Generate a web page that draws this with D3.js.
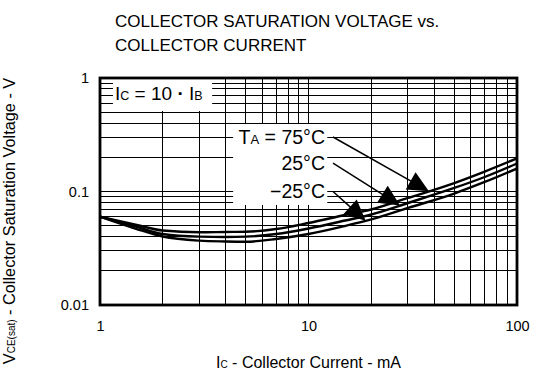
<!DOCTYPE html>
<html>
<head>
<meta charset="utf-8">
<script src="https://cdn.jsdelivr.net/npm/d3@7/dist/d3.min.js"></script>
<style>
  html, body { margin: 0; padding: 0; background: #fff; }
  text { font-family: "Liberation Sans", Arial, sans-serif; fill: #000; }
</style>
</head>
<body>
<svg id="chart" width="535" height="379"></svg>
<script>
// ---- data ----
const currents = [1, 1.5, 2, 3, 4, 5, 7, 10, 15, 20, 30, 50, 70, 100];           // Ic, mA
const vce75  = [0.060, 0.0507, 0.0453, 0.0437, 0.0440, 0.0442, 0.0467, 0.0528, 0.0621, 0.0694, 0.0877, 0.1188, 0.150, 0.196];
const vce25  = [0.060, 0.0487, 0.0422, 0.0400, 0.0397, 0.0400, 0.0422, 0.0472, 0.0555, 0.0627, 0.0792, 0.1074, 0.1342, 0.1765];
const vceM25 = [0.060, 0.0467, 0.0401, 0.0369, 0.0363, 0.0361, 0.0382, 0.0422, 0.0497, 0.0567, 0.0716, 0.0960, 0.1213, 0.1595];
const seriesNames = ["75°C", "25°C", "−25°C"];
const xTickValues = [1, 10, 100];
const xTickLabels = ["1", "10", "100"];
const yTickValues = [0.01, 0.1, 1];
const yTickLabels = ["0.01", "0.1", "1"];
// annotation anchors in data units (mA, V)
const labelX = 12.0;
const labelY = [0.302, 0.178, 0.100];
const arrowTipX = [37.8, 27.5, 18.8];
const condBox = {x0: 1.154, x1: 3.45, y0: 0.512, y1: 1.0};
const tempBox = {x0: 4.35, x1: 12.3, y0: 0.0761, y1: 0.393};
const condPos = {x: 1.18, y: 0.723};

const svg = d3.select("#chart");
const L = 100, R = 517, T = 78, B = 305;
const x = d3.scaleLog().domain([1, 100]).range([L, R]);
const y = d3.scaleLog().domain([0.01, 1]).range([B, T]);

// ---- grid ----
const g = svg.append("g").attr("shape-rendering", "crispEdges");
g.selectAll("line.vx").data(x.ticks().filter(v => v > 1 && v < 100)).enter()
  .append("line").attr("x1", d => x(d)).attr("x2", d => x(d)).attr("y1", T).attr("y2", B)
  .attr("stroke", "#000").attr("stroke-width", 1);
g.selectAll("line.hy").data(y.ticks().filter(v => v > 0.01 && v < 1)).enter()
  .append("line").attr("y1", d => y(d)).attr("y2", d => y(d)).attr("x1", L).attr("x2", R)
  .attr("stroke", "#000").attr("stroke-width", 1);

// white label boxes
[condBox, tempBox].forEach(b => {
  svg.append("rect").attr("x", x(b.x0)).attr("y", y(b.y1))
    .attr("width", x(b.x1) - x(b.x0)).attr("height", y(b.y0) - y(b.y1))
    .attr("fill", "#fff");
});

// frame
svg.append("rect").attr("x", L).attr("y", T).attr("width", R - L).attr("height", B - T)
  .attr("fill", "none").attr("stroke", "#000").attr("stroke-width", 2.8);

// ---- curves ----
const series = [vce75, vce25, vceM25];
const line = d3.line().curve(d3.curveMonotoneX).x(d => x(d[0])).y(d => y(d[1]));
series.forEach(s => {
  svg.append("path").datum(currents.map((c, i) => [c, s[i]]))
    .attr("d", line).attr("fill", "none").attr("stroke", "#000").attr("stroke-width", 2.4);
});

// ---- axes ----
const xAxis = d3.axisBottom(x).tickValues(xTickValues).tickFormat((d, i) => xTickLabels[i]).tickSize(0).tickPadding(16);
const xa = svg.append("g").attr("transform", `translate(0,${B})`).call(xAxis);
xa.select(".domain").remove();
xa.selectAll("text").attr("font-size", 14.5).attr("font-family", "Liberation Sans, Arial, sans-serif");
const yAxis = d3.axisLeft(y).tickValues(yTickValues).tickFormat((d, i) => yTickLabels[i]).tickSize(0).tickPadding(11);
const ya = svg.append("g").attr("transform", `translate(${L},0)`).call(yAxis);
ya.select(".domain").remove();
ya.selectAll("text").attr("font-size", 14.5).attr("font-family", "Liberation Sans, Arial, sans-serif");

// ---- titles ----
const title = svg.append("text").attr("x", 115).attr("font-size", 17);
title.append("tspan").attr("x", 115).attr("y", 27).text("COLLECTOR SATURATION VOLTAGE vs.");
title.append("tspan").attr("x", 115).attr("y", 51).text("COLLECTOR CURRENT");

const xt = svg.append("text").attr("x", (L + R) / 2).attr("y", 368).attr("text-anchor", "middle").attr("font-size", 16);
xt.append("tspan").text("I");
xt.append("tspan").attr("font-size", 10).text("C");
xt.append("tspan").text(" - Collector Current - mA");

const yt = svg.append("text").attr("transform", "translate(15,221) rotate(-90)").attr("text-anchor", "middle").attr("font-size", 16.3);
yt.append("tspan").text("V");
yt.append("tspan").attr("font-size", 10).text("CE(sat)");
yt.append("tspan").text(" - Collector Saturation Voltage - V");

// ---- condition label ----
const cond = svg.append("text").attr("x", x(condPos.x)).attr("y", y(condPos.y) + 6.5).attr("font-size", 19);
cond.append("tspan").text("I");
cond.append("tspan").attr("font-size", 12.5).text("C");
cond.append("tspan").text(" = 10 ");
cond.append("tspan").attr("font-weight", "bold").text("·");
cond.append("tspan").text(" I");
cond.append("tspan").attr("font-size", 12.5).text("B");

// ---- temperature labels with arrows ----
function interp(s, xv) {
  const lx = Math.log10(xv);
  for (let i = 0; i < currents.length - 1; i++) {
    const a = Math.log10(currents[i]), b = Math.log10(currents[i + 1]);
    if (lx >= a && lx <= b) {
      const t = (lx - a) / (b - a);
      return Math.pow(10, Math.log10(s[i]) + t * (Math.log10(s[i + 1]) - Math.log10(s[i])));
    }
  }
  return s[s.length - 1];
}
seriesNames.forEach((name, i) => {
  const tx = x(labelX), ty = y(labelY[i]);
  const t = svg.append("text").attr("x", tx).attr("y", ty + 6.5).attr("text-anchor", "end").attr("font-size", 19.5);
  if (i === 0) {
    t.append("tspan").text("T");
    t.append("tspan").attr("font-size", 13).text("A");
    t.append("tspan").text(" = " + name);
  } else {
    t.text(name);
  }
  const sx = tx + 8, sy = ty;
  const ex = x(arrowTipX[i]), ey = y(interp(series[i], arrowTipX[i]));
  const dx = ex - sx, dy = ey - sy, len = Math.hypot(dx, dy);
  const ux = dx / len, uy = dy / len;
  const hl = 21, hw = 10;
  const bx = ex - ux * hl, by = ey - uy * hl;
  svg.append("line").attr("x1", sx).attr("y1", sy).attr("x2", bx + ux * 2).attr("y2", by + uy * 2)
    .attr("stroke", "#000").attr("stroke-width", 1.5);
  svg.append("path")
    .attr("d", `M${ex},${ey}L${bx - uy * hw},${by + ux * hw}L${bx + uy * hw},${by - ux * hw}Z`)
    .attr("fill", "#000");
});
</script>
</body>
</html>
